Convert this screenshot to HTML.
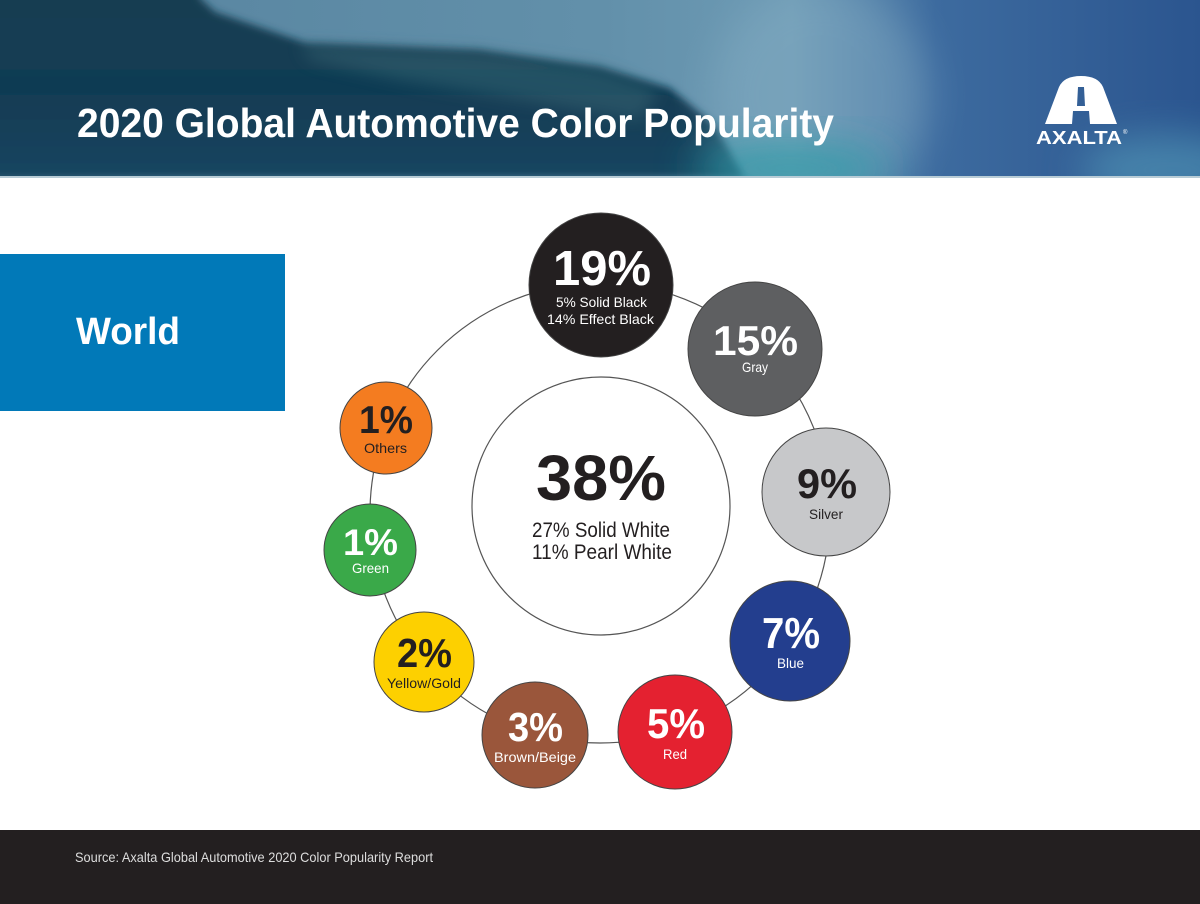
<!DOCTYPE html>
<html><head><meta charset="utf-8"><style>
html,body{margin:0;padding:0;background:#fff;}
svg{display:block;}
text{font-family:"Liberation Sans",sans-serif;}
</style></head><body>
<svg width="1200" height="904" viewBox="0 0 1200 904" xmlns="http://www.w3.org/2000/svg">
<defs>
<linearGradient id="base" x1="0" y1="0" x2="1" y2="0">
<stop offset="0" stop-color="#3c6a80"/>
<stop offset="0.15" stop-color="#5a87a2"/>
<stop offset="0.5" stop-color="#6290aa"/>
<stop offset="0.66" stop-color="#6d9ab4"/>
<stop offset="0.78" stop-color="#3d6b9f"/>
<stop offset="1" stop-color="#2b558f"/>
</linearGradient>
<linearGradient id="wave" x1="0" y1="0" x2="0" y2="1">
<stop offset="0" stop-color="#133e50"/>
<stop offset="0.6" stop-color="#113b53"/>
<stop offset="1" stop-color="#184560"/>
</linearGradient>
<filter id="b4" x="-50%" y="-50%" width="200%" height="200%"><feGaussianBlur stdDeviation="4"/></filter>
<filter id="b8" x="-50%" y="-50%" width="200%" height="200%"><feGaussianBlur stdDeviation="8"/></filter>
<filter id="b20" x="-50%" y="-50%" width="200%" height="200%"><feGaussianBlur stdDeviation="20"/></filter>
<clipPath id="hc"><rect x="0" y="0" width="1200" height="178"/></clipPath>
</defs>

<!-- header -->
<g clip-path="url(#hc)">
<rect x="0" y="0" width="1200" height="178" fill="url(#base)"/>
<ellipse cx="1170" cy="170" rx="90" ry="35" fill="#5aa5bf" opacity="0.55" filter="url(#b20)"/>
<path d="M-40,-40 L190,-40 L200,-2 L215,12 L306,43 L479,50 L600,67 L670,88 L715,125 L745,178 L-40,178 Z" fill="url(#wave)" filter="url(#b4)"/>
<path d="M300,45 L479,52 L600,68 L660,90 L640,120 L520,100 L400,80 L310,60 Z" fill="#3d6c78" opacity="0.45" filter="url(#b8)"/>
<ellipse cx="820" cy="95" rx="110" ry="110" fill="#88b0c6" opacity="0.4" filter="url(#b20)"/>
<ellipse cx="790" cy="168" rx="100" ry="26" fill="#2a9aa6" opacity="0.75" filter="url(#b20)"/>
</g>
<rect x="0" y="176" width="1200" height="2" fill="#b8ccd6"/>

<text x="77" y="137" font-size="41" font-weight="bold" fill="#ffffff" textLength="757" lengthAdjust="spacingAndGlyphs">2020 Global Automotive Color Popularity</text>

<!-- logo -->
<path fill-rule="evenodd" fill="#ffffff" d="M1045,124 L1059,87 Q1064,76 1081,76 Q1098,76 1103,87 L1117,124 Z M1078,87 L1084,87 L1085,106 L1077,106 Z M1073,111 L1089,111 L1090,124 L1072,124 Z"/>
<text x="1036" y="144" font-size="18" font-weight="bold" fill="#ffffff" textLength="86" lengthAdjust="spacingAndGlyphs">AXALTA</text>
<text x="1123" y="134" font-size="6" fill="#ffffff">®</text>

<!-- World box -->
<rect x="0" y="254" width="285" height="157" fill="#0179b8"/>
<text x="76" y="344" font-size="38" font-weight="bold" fill="#ffffff" textLength="104" lengthAdjust="spacingAndGlyphs">World</text>

<!-- ring -->
<circle cx="600" cy="513" r="230" fill="none" stroke="#555" stroke-width="1.2"/>

<!-- center -->
<circle cx="601" cy="506" r="129" fill="#fff" stroke="#555" stroke-width="1.2"/>
<text x="536" y="500" font-size="64" font-weight="bold" fill="#231f20" textLength="130" lengthAdjust="spacingAndGlyphs">38%</text>
<text x="532" y="537" font-size="21" fill="#231f20" textLength="138" lengthAdjust="spacingAndGlyphs">27% Solid White</text>
<text x="532" y="559" font-size="21" fill="#231f20" textLength="140" lengthAdjust="spacingAndGlyphs">11% Pearl White</text>

<g stroke="#444" stroke-width="1">
<circle cx="601" cy="285" r="72" fill="#231f20"/>
<circle cx="755" cy="349" r="67" fill="#5e5f61"/>
<circle cx="826" cy="492" r="64" fill="#c7c8ca"/>
<circle cx="790" cy="641" r="60" fill="#233e8e"/>
<circle cx="675" cy="732" r="57" fill="#e42130"/>
<circle cx="535" cy="735" r="53" fill="#9a563b"/>
<circle cx="424" cy="662" r="50" fill="#fdd000"/>
<circle cx="370" cy="550" r="46" fill="#3aa949"/>
<circle cx="386" cy="428" r="46" fill="#f47c20"/>
</g>

<g font-weight="bold">
<text x="553" y="285" font-size="49" fill="#fff" textLength="98" lengthAdjust="spacingAndGlyphs">19%</text>
<text x="713" y="355" font-size="42" fill="#fff" textLength="85" lengthAdjust="spacingAndGlyphs">15%</text>
<text x="797" y="498" font-size="42" fill="#231f20" textLength="60" lengthAdjust="spacingAndGlyphs">9%</text>
<text x="762" y="648" font-size="44" fill="#fff" textLength="58" lengthAdjust="spacingAndGlyphs">7%</text>
<text x="647" y="738" font-size="42" fill="#fff" textLength="58" lengthAdjust="spacingAndGlyphs">5%</text>
<text x="508" y="741" font-size="41" fill="#fff" textLength="55" lengthAdjust="spacingAndGlyphs">3%</text>
<text x="397" y="667" font-size="41" fill="#231f20" textLength="55" lengthAdjust="spacingAndGlyphs">2%</text>
<text x="343" y="555" font-size="37" fill="#fff" textLength="55" lengthAdjust="spacingAndGlyphs">1%</text>
<text x="359" y="433" font-size="39" fill="#231f20" textLength="54" lengthAdjust="spacingAndGlyphs">1%</text>
</g>
<g font-size="14">
<text x="556" y="307" fill="#fff" textLength="91" lengthAdjust="spacingAndGlyphs">5% Solid Black</text>
<text x="547" y="324" fill="#fff" textLength="107" lengthAdjust="spacingAndGlyphs">14% Effect Black</text>
<text x="742" y="372" fill="#fff" textLength="26" lengthAdjust="spacingAndGlyphs">Gray</text>
<text x="809" y="519" fill="#231f20" textLength="34" lengthAdjust="spacingAndGlyphs">Silver</text>
<text x="777" y="668" fill="#fff" textLength="27" lengthAdjust="spacingAndGlyphs">Blue</text>
<text x="663" y="759" fill="#fff" textLength="24" lengthAdjust="spacingAndGlyphs">Red</text>
<text x="494" y="762" fill="#fff" textLength="82" lengthAdjust="spacingAndGlyphs">Brown/Beige</text>
<text x="387" y="688" fill="#231f20" textLength="74" lengthAdjust="spacingAndGlyphs">Yellow/Gold</text>
<text x="352" y="573" fill="#fff" textLength="37" lengthAdjust="spacingAndGlyphs">Green</text>
<text x="364" y="453" fill="#231f20" textLength="43" lengthAdjust="spacingAndGlyphs">Others</text>
</g>

<!-- footer -->
<rect x="0" y="830" width="1200" height="74" fill="#231f20"/>
<text x="75" y="862" font-size="14" fill="#dddddd" textLength="358" lengthAdjust="spacingAndGlyphs">Source: Axalta Global Automotive 2020 Color Popularity Report</text>
</svg>
</body></html>
